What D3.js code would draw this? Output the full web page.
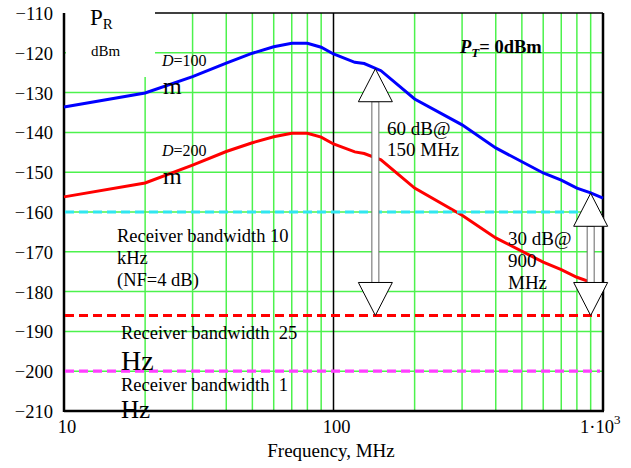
<!DOCTYPE html>
<html>
<head>
<meta charset="utf-8">
<script src="https://cdn.jsdelivr.net/npm/d3@7"></script>
<style>
body { margin: 0; background: #fff; }
text { font-family: "Liberation Serif", "Times New Roman", serif; fill: #000; }
</style>
</head>
<body>
<div id="chart"></div>
<script>
// frequencies (MHz) where the curves were computed
var freqs = [10, 20, 30, 40, 50, 60, 70, 80, 90, 100, 120, 130, 150, 200, 300, 400, 600, 700, 800, 900, 1000];
// received power, dBm, D = 100 m and D = 200 m
var pr100 = [-133.6, -130.1, -126, -122.6, -120.1, -118.5, -117.6, -117.6, -118.6, -120.3, -122.4, -122.7, -124.5, -131.6, -138.1, -143.9, -150.2, -152, -154, -155.2, -156.5];
var pr200 = [-156.2, -152.7, -148.2, -144.8, -142.6, -141.1, -140.2, -140.2, -141.2, -142.9, -144.9, -145.3, -146.9, -154, -160.8, -166.5, -172.6, -174.5, -176.4, -177.6, -179];
// receiver sensitivity levels: 10 kHz (NF=4 dB), 25 Hz, 1 Hz
var levels = [-160, -186, -200];
var levelColors = ["#30e6f0", "#ff0000", "#ff3fff"];
// margin arrows
var arrowFreq = [143, 900];
var arrowTop = [-124, -155.3];
var arrowBottom = [-186, -186];

var yTicks = [-110, -120, -130, -140, -150, -160, -170, -180, -190, -200, -210];
var xGrid = [20, 30, 40, 50, 60, 70, 80, 90, 200, 300, 400, 500, 600, 700, 800, 900];
var xTicks = [10, 100, 1000];

var W = 631, H = 468;
var margin = {left: 64, right: 28, top: 13, bottom: 57};

var svg = d3.select("#chart").append("svg")
    .attr("width", W)
    .attr("height", H);

var x = d3.scaleLog().domain([10, 1000]).range([margin.left, W - margin.right]);
var y = d3.scaleLinear().domain([-210, -110]).range([H - margin.bottom, margin.top]);

var x0 = x.range()[0], x1 = x.range()[1];
var yb = y.range()[0], yt = y.range()[1];

// green grid
svg.append("g").selectAll("line").data(yTicks.slice(1, -1)).enter().append("line")
    .attr("x1", x0).attr("x2", x1)
    .attr("y1", d => y(d)).attr("y2", d => y(d))
    .attr("stroke", "#4cf24c").attr("stroke-width", 1.5);
svg.append("g").selectAll("line").data(xGrid).enter().append("line")
    .attr("x1", d => x(d)).attr("x2", d => x(d))
    .attr("y1", yt).attr("y2", yb)
    .attr("stroke", "#4cf24c").attr("stroke-width", 1.5);

// white box behind the P_R label
svg.append("rect")
    .attr("x", x0 + 2).attr("y", 0)
    .attr("width", 89).attr("height", 77)
    .attr("fill", "#fff");

// frame
svg.append("line").attr("x1", 155).attr("x2", x1).attr("y1", yt).attr("y2", yt)
    .attr("stroke", "#000").attr("stroke-width", 1.5);
svg.append("line").attr("x1", x(100)).attr("x2", x(100)).attr("y1", yt).attr("y2", yb)
    .attr("stroke", "#000").attr("stroke-width", 1.5);
svg.append("line").attr("x1", x1).attr("x2", x1).attr("y1", yt).attr("y2", yb)
    .attr("stroke", "#000").attr("stroke-width", 2.5);
svg.append("line").attr("x1", x0).attr("x2", x0).attr("y1", yt).attr("y2", yb + 1)
    .attr("stroke", "#000").attr("stroke-width", 2.5);
svg.append("line").attr("x1", x0).attr("x2", x1 + 1).attr("y1", yb).attr("y2", yb)
    .attr("stroke", "#000").attr("stroke-width", 2.5);

// curves
var line = d3.line().x(d => x(d[0])).y(d => y(d[1]));
svg.append("path").datum(d3.zip(freqs, pr100))
    .attr("d", line).attr("fill", "none")
    .attr("stroke", "#0000ff").attr("stroke-width", 3);
svg.append("path").datum(d3.zip(freqs, pr200))
    .attr("d", line).attr("fill", "none")
    .attr("stroke", "#ff0000").attr("stroke-width", 3);

// sensitivity levels
svg.append("g").selectAll("line").data(levels).enter().append("line")
    .attr("x1", x0 + 1).attr("x2", x1 - 3)
    .attr("y1", d => y(d)).attr("y2", d => y(d))
    .attr("stroke", (d, i) => levelColors[i])
    .attr("stroke-width", 3.2)
    .attr("stroke-dasharray", "9,5");

// double arrows
var hw = 17, hh = 33, sw = 3.5;
arrowFreq.forEach(function (f, i) {
    var cx = x(f), ty = y(arrowTop[i]), by = y(arrowBottom[i]);
    var g = svg.append("g");
    g.append("rect")
        .attr("x", cx - sw).attr("y", ty + hh)
        .attr("width", sw * 2).attr("height", by - ty - 2 * hh)
        .attr("fill", "#fff").attr("stroke", "#666").attr("stroke-width", 1);
    g.append("path")
        .attr("d", "M" + cx + "," + ty + "L" + (cx + hw) + "," + (ty + hh) + "L" + (cx - hw) + "," + (ty + hh) + "Z")
        .attr("fill", "#fff").attr("stroke", "#000").attr("stroke-width", 1);
    g.append("path")
        .attr("d", "M" + cx + "," + by + "L" + (cx + hw) + "," + (by - hh) + "L" + (cx - hw) + "," + (by - hh) + "Z")
        .attr("fill", "#fff").attr("stroke", "#000").attr("stroke-width", 1);
});

// y tick labels
svg.append("g").selectAll("text").data(yTicks).enter().append("text")
    .attr("x", 53).attr("y", d => y(d) + 7)
    .attr("text-anchor", "end")
    .style("font-size", "18.5px")
    .text(d => d3.format("d")(d).replace("-", "\u2212"));

// x tick labels
svg.append("text").attr("x", x(10) + 3).attr("y", yb + 22)
    .attr("text-anchor", "middle").style("font-size", "18.5px").text("10");
svg.append("text").attr("x", x(100) + 3).attr("y", yb + 22)
    .attr("text-anchor", "middle").style("font-size", "18.5px").text("100");
var t3 = svg.append("text").attr("x", x(1000) - 23).attr("y", yb + 22)
    .style("font-size", "18.5px");
t3.append("tspan").text("1\u00b710");
t3.append("tspan").attr("dy", -9).style("font-size", "13px").text("3");

svg.append("text").attr("x", 331).attr("y", 457)
    .attr("text-anchor", "middle").style("font-size", "19px")
    .text("Frequency, MHz");

// P_R dBm
var pr = svg.append("text").attr("x", 90).attr("y", 25).style("font-size", "23px");
pr.append("tspan").text("P");
pr.append("tspan").attr("dy", 4).style("font-size", "15px").text("R");
svg.append("text").attr("x", 91).attr("y", 56).style("font-size", "15px").text("dBm");

// P_T = 0dBm
var pt = svg.append("text").attr("x", 460).attr("y", 53)
    .style("font-size", "18.5px").style("font-weight", "bold");
pt.append("tspan").style("font-style", "italic").text("P");
pt.append("tspan").attr("dy", 4).style("font-style", "italic").style("font-size", "13px").text("T");
pt.append("tspan").attr("dy", -4).text("= 0dBm");

// distance labels
function distLabel(xp, yp, d) {
    var t = svg.append("text").attr("x", xp).attr("y", yp).style("font-size", "16px");
    t.append("tspan").style("font-style", "italic").text("D");
    t.append("tspan").text("=" + d);
    svg.append("text").attr("x", xp + 1).attr("y", yp + 28).style("font-size", "24px").text("m");
}
distLabel(162, 66, 100);
distLabel(162, 156, 200);

// multi-line labels
function lines(xp, yp, rows, lh, size) {
    rows.forEach(function (r, i) {
        svg.append("text").attr("x", xp).attr("y", yp + i * lh)
            .style("font-size", size).style("white-space", "pre").text(r);
    });
}
lines(117, 242, ["Receiver bandwidth 10", "kHz", "(NF=4 dB)"], 22, "18.5px");
lines(121, 339, ["Receiver bandwidth  25"], 0, "18.5px");
svg.append("text").attr("x", 121).attr("y", 370).style("font-size", "28px").text("Hz");
lines(121, 391, ["Receiver bandwidth  1"], 0, "18.5px");
svg.append("text").attr("x", 121).attr("y", 418).style("font-size", "25px").text("Hz");
lines(387, 135, ["60 dB@", "150 MHz"], 21, "19px");
lines(508, 245, ["30 dB@", "900", "MHz"], 22, "19px");
</script>
</body>
</html>
